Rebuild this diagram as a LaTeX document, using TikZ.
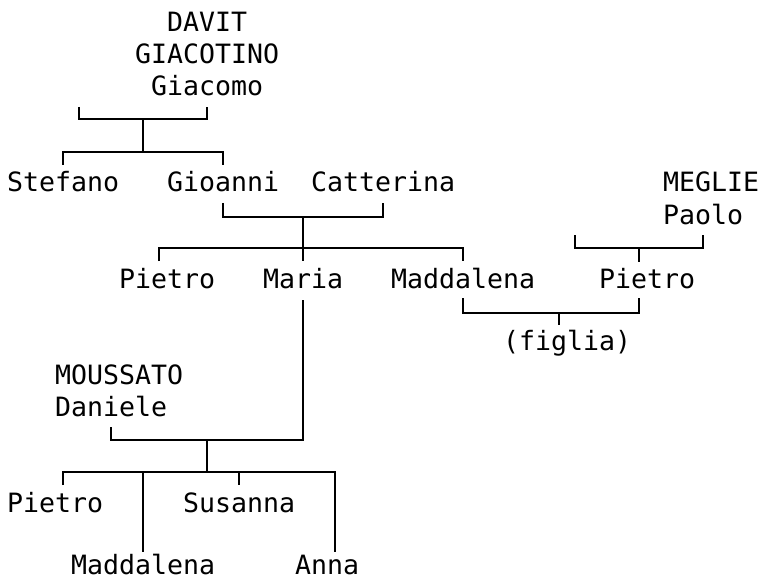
\documentclass[tikz,border=0pt]{standalone}
\usepackage{fontspec}
\setmonofont{DejaVu Sans Mono}
\begin{document}
\begin{tikzpicture}[x=1pt,y=-1pt,
  nm/.style={font=\ttfamily\fontsize{26.58}{32}\selectfont, inner sep=0pt, anchor=base west},
  ln/.style={line width=1.8pt, line cap=butt, line join=miter}]
\useasboundingbox (0,0) rectangle (760,580);
% names (x = 7 + 16k, baseline = 32r)
\node[nm] (davit) at (167,32) {DAVIT};
\node[nm] (giacotino) at (135,64) {GIACOTINO};
\node[nm] (giacomo) at (151,96) {Giacomo};
\node[nm] (stefano) at (7,192) {Stefano};
\node[nm] (gioanni) at (167,192) {Gioanni};
\node[nm] (catterina) at (311,192) {Catterina};
\node[nm] (meglie) at (663,192) {MEGLIE};
\node[nm] (paolo) at (663,224) {Paolo};
\node[nm] (pietroA) at (119,288) {Pietro};
\node[nm] (maria) at (263,288) {Maria};
\node[nm] (maddalenaA) at (391,288) {Maddalena};
\node[nm] (pietroB) at (599,288) {Pietro};
\node[nm] (figlia) at (503,350) {(figlia)};
\node[nm] (moussato) at (55,384) {MOUSSATO};
\node[nm] (daniele) at (55,416) {Daniele};
\node[nm] (pietroC) at (7,512) {Pietro};
\node[nm] (susanna) at (183,512) {Susanna};
\node[nm] (maddalenaB) at (71,574) {Maddalena};
\node[nm] (anna) at (295,574) {Anna};
% junction coordinates
\coordinate (a1) at (79,107);  \coordinate (a2) at (79,119);
\coordinate (a3) at (207,119); \coordinate (a4) at (207,107);
\coordinate (a5) at (143,119); \coordinate (a6) at (143,152);
\coordinate (b1) at (63,165);  \coordinate (b2) at (63,152);
\coordinate (b3) at (223,152); \coordinate (b4) at (223,165);
\coordinate (c1) at (223,203); \coordinate (c2) at (223,217);
\coordinate (c3) at (383,217); \coordinate (c4) at (383,203);
\coordinate (c5) at (303,217); \coordinate (c6) at (303,248);
\coordinate (d1) at (159,261); \coordinate (d2) at (159,248);
\coordinate (d3) at (463,248); \coordinate (d4) at (463,261);
\coordinate (d5) at (303,261);
\coordinate (m1) at (575,235); \coordinate (m2) at (575,248);
\coordinate (m3) at (703,248); \coordinate (m4) at (703,235);
\coordinate (m5) at (639,248); \coordinate (m6) at (639,262);
\coordinate (f1) at (463,298); \coordinate (f2) at (463,313);
\coordinate (f3) at (639,313); \coordinate (f4) at (639,298);
\coordinate (f5) at (559,313); \coordinate (f6) at (559,325);
\coordinate (r1) at (303,300); \coordinate (r2) at (303,440);
\coordinate (g1) at (111,427); \coordinate (g2) at (111,440);
\coordinate (g3) at (207,440); \coordinate (g4) at (207,472);
\coordinate (h1) at (63,472);  \coordinate (h2) at (335,472);
\coordinate (h3) at (63,485);  \coordinate (h4) at (143,472);
\coordinate (h5) at (143,552); \coordinate (h6) at (239,472);
\coordinate (h7) at (239,485); \coordinate (h8) at (335,552);
% connectors
\draw[ln] (a1) -- (a2) -- (a3) -- (a4);
\draw[ln] (a5) -- (a6);
\draw[ln] (b1) -- (b2) -- (b3) -- (b4);
\draw[ln] (c1) -- (c2) -- (c3) -- (c4);
\draw[ln] (c5) -- (c6);
\draw[ln] (d1) -- (d2) -- (d3) -- (d4);
\draw[ln] (c6) -- (d5);
\draw[ln] (m1) -- (m2) -- (m3) -- (m4);
\draw[ln] (m5) -- (m6);
\draw[ln] (f1) -- (f2) -- (f3) -- (f4);
\draw[ln] (f5) -- (f6);
\draw[ln] (r1) -- (r2) -- (g2) -- (g1);
\draw[ln] (g3) -- (g4);
\draw[ln] (h3) -- (h1) -- (h2) -- (h8);
\draw[ln] (h4) -- (h5);
\draw[ln] (h6) -- (h7);
\end{tikzpicture}
\end{document}
